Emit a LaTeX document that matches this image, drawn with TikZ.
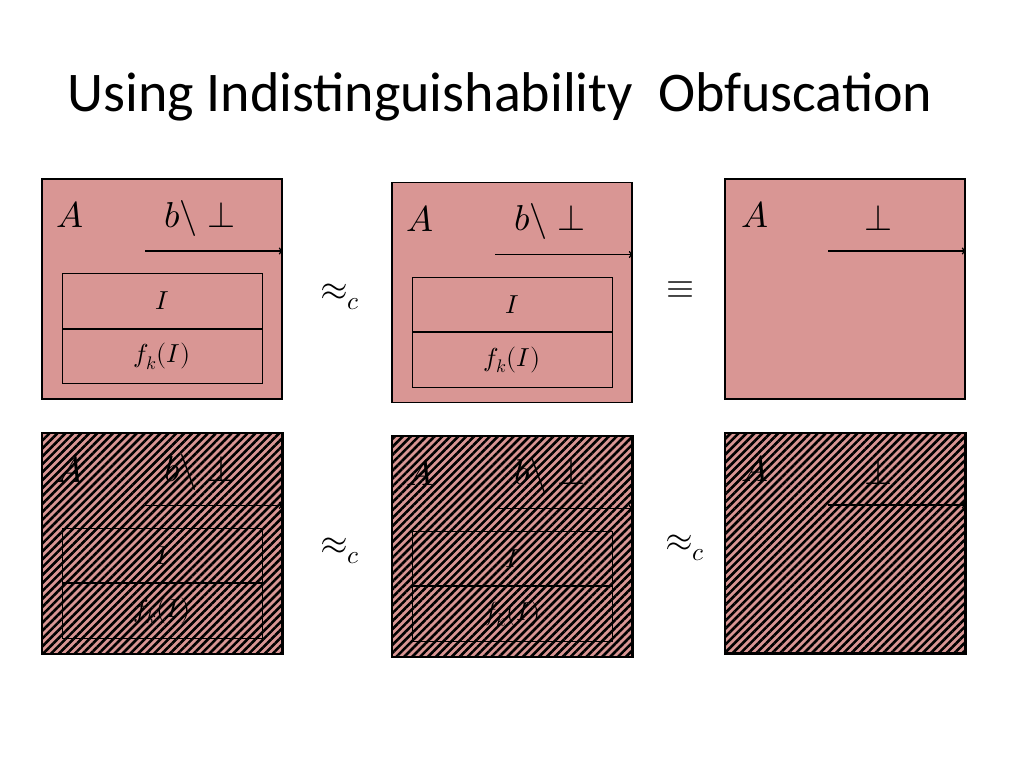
\documentclass[tikz,border=0pt]{standalone}
\usepackage{fontspec}
\setmainfont{Carlito}
\usepackage{unicode-math}
\setmathfont{Latin Modern Math}
\usetikzlibrary{patterns.meta}
\definecolor{rosa}{HTML}{D99694}
\begin{document}
\begin{tikzpicture}[x=1pt,y=-1pt]
  \tikzstyle{every node}+=[inner sep=0pt]
  \tikzstyle{bigbox}=[draw=black,line width=1.5pt,fill=rosa,minimum width=240pt,minimum height=220pt]
  \tikzstyle{cell}=[draw=black,line width=0.8pt,minimum width=200pt,minimum height=54.5pt,font=\fontsize{26}{28}\selectfont]
  \tikzstyle{lbl}=[font=\fontsize{36}{38}\selectfont]
  \tikzstyle{rel}=[font=\fontsize{36}{38}\selectfont]
  \tikzstyle{hatch}=[draw=black,line width=1.5pt,pattern={Lines[angle=45,distance=5.6pt,line width=2.6pt]},pattern color=black]
  \useasboundingbox (0,0) rectangle (1024,768);
  \node (title) at (500,97) {\fontsize{56}{60}\selectfont Using Indistinguishability\ \ Obfuscation};
  % top row
  \node [bigbox] (b1) at (162,289) {};
  \node [bigbox] (b2) at (512,292.5) {};
  \node [bigbox] (b3) at (845,289) {};
  % bottom row
  \node [bigbox] (b4) at (162,543.5) {};
  \node [bigbox] (b5) at (512,546.5) {};
  \node [bigbox] (b6) at (845,543) {};
  \foreach \b/\u in {b1/I, b2/U, b4/I, b5/U}{
    \node [lbl] (\b a) at ([xshift=-92pt,yshift=74pt]\b.center) {$A$};
    \node [lbl] (\b l) at ([xshift=38pt,yshift=71pt]\b.center) {$b\backslash\perp$};
    \coordinate (\b s) at ([xshift=-17pt,yshift=38pt]\b.center);
    \coordinate (\b e) at ([yshift=38pt]\b.east);
    \draw [->,line width=1.5pt] (\b s) -- (\b e);
    \node [cell] (\b top) at ([yshift=-12pt]\b.center) {$I$};
    \node [cell,anchor=north] (\b bot) at (\b top.south) {$\ifx\u U U\else f_k(I)\fi$};
  }
  \foreach \b in {b3, b6}{
    \node [lbl] (\b a) at ([xshift=-90pt,yshift=74pt]\b.center) {$A$};
    \node [lbl] (\b l) at ([xshift=33pt,yshift=71pt]\b.center) {$\perp$};
    \coordinate (\b s) at ([xshift=-17pt,yshift=38pt]\b.center);
    \coordinate (\b e) at ([yshift=38pt]\b.east);
    \draw [->,line width=1.5pt] (\b s) -- (\b e);
  }
  % hatching over the bottom row
  \foreach \b in {b4, b5, b6}{
    \draw [hatch] (\b.north west) rectangle (\b.south east);
  }
  \node [rel] (r1) at (340,297) {$\approx_c$};
  \node [rel] (r2) at (680,290) {$\equiv$};
  \node [rel] (r3) at (340,551) {$\approx_c$};
  \node [rel] (r4) at (685,548) {$\approx_c$};
\end{tikzpicture}
\end{document}
